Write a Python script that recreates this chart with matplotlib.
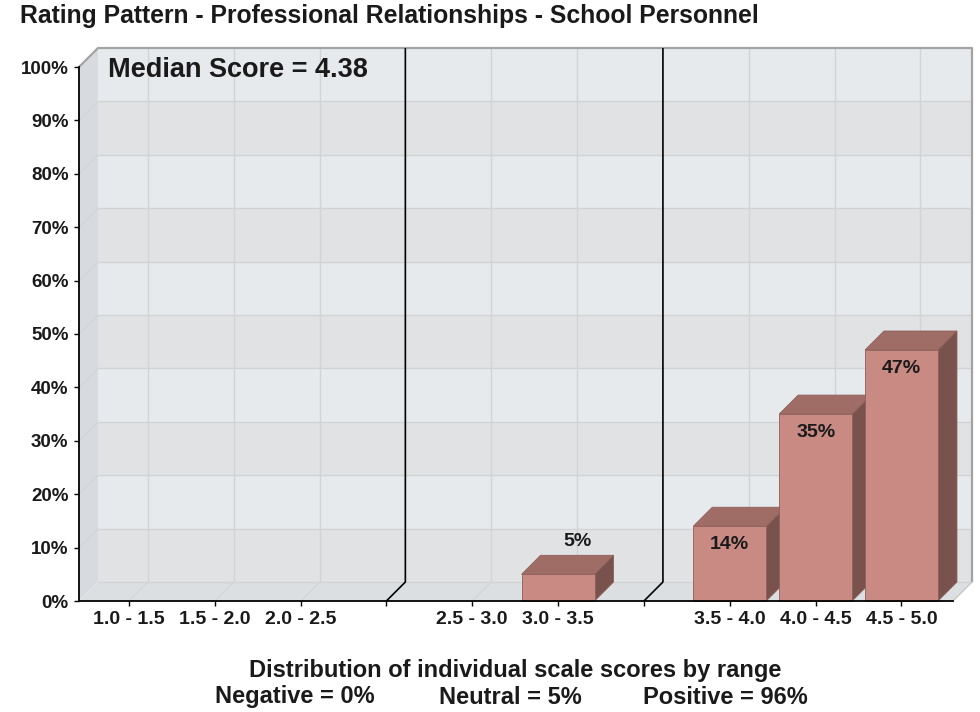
import matplotlib
matplotlib.use("Agg")
import matplotlib.pyplot as plt
from matplotlib.patches import Polygon, Rectangle

plt.rcParams['font.family'] = ['Liberation Sans', 'DejaVu Sans']
plt.rcParams['font.weight'] = 'bold'

# ---- data ----
ranges = ["1.0 - 1.5", "1.5 - 2.0", "2.0 - 2.5", "",
          "2.5 - 3.0", "3.0 - 3.5", "",
          "3.5 - 4.0", "4.0 - 4.5", "4.5 - 5.0"]
percent = [0, 0, 0, None, 0, 5, None, 14, 35, 47]
separator_slots = [3, 6]
yticks = list(range(0, 101, 10))
title = "Rating Pattern - Professional Relationships - School Personnel"
median_label = "Median Score = 4.38"
xlabel = "Distribution of individual scale scores by range"
summary = ["Negative = 0%", "Neutral = 5%", "Positive = 96%"]

# ---- styling ----
W, H, DPI = 980, 712, 100
DEPTH_PX = 19
BAR_W = 0.85
WALL_LIGHT = "#e7eaed"
WALL_DARK = "#e1e2e4"
GRID = "#d2d3d5"
SIDE_WALL = "#d7dbdf"
FLOOR = "#dcdfe2"
FRONT = "#c88a83"
TOP = "#a06d66"
SIDE = "#7a524d"
EDGE = "#8c5f59"
TXT = "#1a1a1a"

fig = plt.figure(figsize=(W / DPI, H / DPI), dpi=DPI)
ax = fig.add_axes([79 / W, 111 / H, 874 / W, 534 / H])
xmin, xmax = -0.58, 9.6
ax.set_xlim(xmin, xmax)
ax.set_ylim(0, 100)
ax.patch.set_visible(False)

# depth offset expressed in data units
ax_w_px = 874
ax_h_px = 534
dx = DEPTH_PX * (xmax - xmin) / ax_w_px
dy = DEPTH_PX * 100 / ax_h_px


def poly(pts, fc, ec="none", lw=0, z=1):
    p = Polygon(pts, closed=True, facecolor=fc, edgecolor=ec, linewidth=lw,
                zorder=z, clip_on=False)
    ax.add_patch(p)


def line(xs, ys, c, lw=1.0, z=2):
    ax.plot(xs, ys, color=c, lw=lw, zorder=z, clip_on=False,
            solid_capstyle="butt")


# back wall with alternating bands
for k, v in enumerate(yticks[:-1]):
    ax.add_patch(Rectangle((xmin + dx, v + dy), xmax - xmin, 10,
                           facecolor=WALL_DARK if k % 2 == 0 else WALL_LIGHT,
                           edgecolor="none", zorder=0.5, clip_on=False))
for v in yticks[1:-1]:
    line([xmin + dx, xmax + dx], [v + dy, v + dy], GRID, 1.0, 0.8)
for i in range(len(ranges)):
    if i in separator_slots:
        continue
    line([i + dx, i + dx], [dy, 100 + dy], GRID, 1.0, 0.8)

# left side wall
poly([(xmin, 0), (xmin, 100), (xmin + dx, 100 + dy), (xmin + dx, dy)],
     SIDE_WALL, z=0.9)
for v in yticks[1:-1]:
    line([xmin, xmin + dx], [v, v + dy], GRID, 0.8, 0.95)

# floor
poly([(xmin, 0), (xmax, 0), (xmax + dx, dy), (xmin + dx, dy)], FLOOR, z=0.9)
line([xmin + dx, xmax + dx], [dy, dy], GRID, 1.0, 0.95)
for i in range(len(ranges)):
    if i in separator_slots:
        continue
    line([i, i + dx], [0, dy], GRID, 0.8, 0.95)

# wall frame
line([xmin, xmin + dx, xmax + dx, xmax + dx], [100, 100 + dy, 100 + dy, dy],
     "#a3a3a3", 1.6, 1.0)
line([xmax, xmax + dx], [0, dy], "#c8c8c8", 1.0, 1.0)

# group separators
for s in separator_slots:
    line([s, s + dx, s + dx], [0, dy, 100 + dy], "black", 1.2, 1.2)

# bars, drawn left to right so nearer faces overlap
h = BAR_W / 2
for i, v in enumerate(percent):
    if not v:
        continue
    z = 3 + i * 0.1
    x0, x1 = i - h, i + h
    poly([(x1, 0), (x1, v), (x1 + dx, v + dy), (x1 + dx, dy)], SIDE, EDGE, 0.6, z)
    poly([(x0, v), (x1, v), (x1 + dx, v + dy), (x0 + dx, v + dy)], TOP, EDGE, 0.6, z)
    poly([(x0, 0), (x1, 0), (x1, v), (x0, v)], FRONT, EDGE, 0.6, z + 0.01)
    if v < 10:
        ax.annotate(f"{v}%", (i + dx, v + dy), xytext=(0, 4),
                    textcoords="offset points", ha="center", va="bottom",
                    fontsize=14, fontweight="bold", color=TXT, zorder=10,
                    annotation_clip=False)
    else:
        ax.annotate(f"{v}%", (i, v), xytext=(0, -13),
                    textcoords="offset points", ha="center", va="center",
                    fontsize=14, fontweight="bold", color=TXT, zorder=10,
                    annotation_clip=False)

# axes
for side in ("top", "right"):
    ax.spines[side].set_visible(False)
for side in ("left", "bottom"):
    ax.spines[side].set_color("black")
    ax.spines[side].set_linewidth(1.3)
    ax.spines[side].set_zorder(6)
ax.set_yticks(yticks)
ax.set_yticklabels([f"{v}%" for v in yticks])
ax.set_xticks(range(len(ranges)))
ax.set_xticklabels(ranges)
ax.tick_params(axis="y", length=3.5, width=1.0, pad=4, labelsize=13.5,
               labelcolor=TXT)
ax.tick_params(axis="x", length=3.5, width=1.0, pad=4, labelsize=14,
               labelcolor=TXT)
for t in ax.get_xticklabels() + ax.get_yticklabels():
    t.set_fontweight("bold")

# texts
fig.text(20 / W, 1 - 16 / H, title, ha="left", va="center", fontsize=17.8,
         fontweight="bold", color=TXT)
fig.text(108 / W, 1 - 70 / H, median_label, ha="left", va="center",
         fontsize=19.5, fontweight="bold", color=TXT)
fig.text(515 / W, 1 - 670 / H, xlabel, ha="center", va="center", fontsize=17,
         fontweight="bold", color=TXT)
for xc, s in zip([295, 510, 725], summary):
    fig.text(xc / W, 1 - 697 / H, s, ha="center", va="center", fontsize=17,
             fontweight="bold", color=TXT)

fig.savefig("out.png", dpi=DPI)
